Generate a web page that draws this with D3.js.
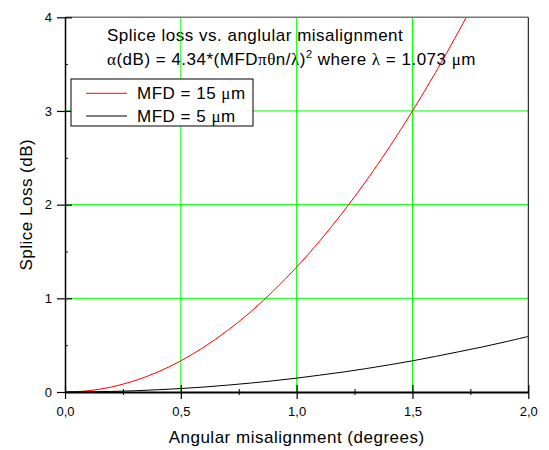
<!DOCTYPE html>
<html><head><meta charset="utf-8">
<script src="https://cdn.jsdelivr.net/npm/d3@7"></script>
<style>body{margin:0;background:#fff;} text{font-family:"Liberation Sans",Arial,sans-serif;fill:#000;}</style>
</head><body>
<svg id="chart" width="549" height="450"></svg>
<script>
// Data
const angles = [0,0.1,0.2,0.3,0.4,0.5,0.6,0.7,0.8,0.9,1.0,1.1,1.2,1.3,1.4,1.5,1.6,1.7,1.8,1.9,2.0];
const mfd15 = [0,0.013,0.053,0.12,0.213,0.333,0.48,0.653,0.853,1.08,1.333,1.613,1.92,2.253,2.613,3.0,3.413,3.853,4.32,4.81,5.33];
const mfd5  = [0,0.0015,0.006,0.013,0.024,0.037,0.053,0.073,0.095,0.12,0.148,0.18,0.213,0.25,0.29,0.333,0.38,0.43,0.48,0.535,0.593];
const xTicks = [0,0.5,1.0,1.5,2.0];
const xTickLabels = ["0,0","0,5","1,0","1,5","2,0"];
const yTicks = [0,1,2,3,4];
const yTickLabels = ["0","1","2","3","4"];
const xGrid = [0.5,1.0,1.5];
const yGrid = [1,2,3];
const seriesNames = ["MFD = 15 ","MFD = 5 "];
const seriesColors = ["#ff0000","#000000"];

const svg = d3.select("#chart");
const L = 65, R = 528.3, T = 17.3, B = 392;
const x = d3.scaleLinear().domain([0,2]).range([L,R]);
const y = d3.scaleLinear().domain([0,4]).range([B,T]);
const BIG = "17px", LS = "0.5px";

// annotation text
svg.append("text").attr("x",107).attr("y",40.7).style("font-size",BIG).style("letter-spacing",LS)
  .text("Splice loss vs. anglular misalignment");
const t2 = svg.append("text").attr("x",107).attr("y",65).style("font-size",BIG).style("letter-spacing",LS);
const greek = s => t2.append("tspan").style("font-family","'Liberation Serif','DejaVu Serif',serif").text(s);
const plain = s => t2.append("tspan").text(s);
greek("α"); plain("(dB) = 4.34*(MFD"); greek("πθ"); plain("n/"); greek("λ"); plain(")");
t2.append("tspan").attr("dy",-7).style("font-size","11px").text("2");
t2.append("tspan").attr("dy",7).text(" where "); greek("λ"); plain(" = 1.073 "); greek("μ"); plain("m");

// gridlines
const grid = svg.append("g").attr("stroke","#00ff00").attr("stroke-width",1);
grid.selectAll(".gx").data(xGrid).join("line")
  .attr("x1",d=>x(d)).attr("x2",d=>x(d)).attr("y1",T).attr("y2",B);
grid.selectAll(".gy").data(yGrid).join("line")
  .attr("x1",L).attr("x2",R).attr("y1",d=>y(d)).attr("y2",d=>y(d));

// clip
svg.append("clipPath").attr("id","clip").append("rect").attr("x",L).attr("y",T).attr("width",R-L).attr("height",B-T);

const line = d3.line().x((d,i)=>x(angles[i])).y(d=>y(d)).curve(d3.curveCatmullRom);
[mfd15, mfd5].forEach((s,i)=>{
  svg.append("path").datum(s).attr("clip-path","url(#clip)").attr("fill","none")
    .attr("stroke",seriesColors[i]).attr("stroke-width",1).attr("d",line);
});

// frame
svg.append("line").attr("x1",L).attr("x2",R).attr("y1",T).attr("y2",T).attr("stroke","#777").attr("stroke-width",1.5);
svg.append("line").attr("x1",R).attr("x2",R).attr("y1",T).attr("y2",B).attr("stroke","#000").attr("stroke-width",1);

// axes
const xAxis = d3.axisBottom(x).tickValues(xTicks).tickFormat((d,i)=>xTickLabels[i]).tickSizeInner(7).tickSizeOuter(0).tickPadding(8);
const gx = svg.append("g").attr("transform",`translate(0,${B})`).call(xAxis);
gx.select(".domain").attr("stroke","#000").attr("stroke-width",2);
gx.selectAll(".tick line").attr("y1",-7).attr("stroke-width",1.2);
gx.selectAll("text").style("font-size","13px").style("font-family","'Liberation Sans',Arial,sans-serif");
const xMinor = d3.axisBottom(x).tickValues([0.25,0.75,1.25,1.75]).tickSize(3).tickFormat("").tickSizeOuter(0);
const gxm = svg.append("g").attr("transform",`translate(0,${B})`).call(xMinor);
gxm.select(".domain").remove();
gxm.selectAll(".tick line").attr("y1",-3);

const yAxis = d3.axisLeft(y).tickValues(yTicks).tickFormat((d,i)=>yTickLabels[i]).tickSizeInner(8).tickSizeOuter(0).tickPadding(5);
const gy = svg.append("g").attr("transform",`translate(${L},0)`).call(yAxis);
gy.select(".domain").attr("stroke","#000").attr("stroke-width",1.5);
gy.selectAll(".tick line").attr("x2",7).attr("x1",-8).attr("stroke-width",1.2);
gy.selectAll("text").style("font-size","13px").style("font-family","'Liberation Sans',Arial,sans-serif");
const yMinor = d3.axisLeft(y).tickValues([0.5,1.5,2.5,3.5]).tickSize(3).tickFormat("").tickSizeOuter(0);
const gym = svg.append("g").attr("transform",`translate(${L},0)`).call(yMinor);
gym.select(".domain").remove();
gym.selectAll(".tick line").attr("x2",3);

// axis titles
svg.append("text").attr("x",(L+R)/2).attr("y",443.3).attr("text-anchor","middle").style("font-size",BIG).style("letter-spacing",LS)
  .text("Angular misalignment (degrees)");
svg.append("text").attr("transform",`translate(31.5,${(T+B)/2}) rotate(-90)`).attr("text-anchor","middle").style("font-size",BIG).style("letter-spacing",LS)
  .text("Splice Loss (dB)");

// legend
const lg = svg.append("g");
lg.append("rect").attr("x",71).attr("y",79).attr("width",182).attr("height",47).attr("fill","#fff").attr("stroke","#000").attr("stroke-width",1);
seriesNames.forEach((n,i)=>{
  const yy = 93.3 + i*22.7;
  lg.append("line").attr("x1",86).attr("x2",127).attr("y1",yy).attr("y2",yy).attr("stroke",seriesColors[i]).attr("stroke-width",1);
  const tt = lg.append("text").attr("x",137).attr("y",yy+5.5).style("font-size",BIG).style("letter-spacing",LS).text(n);
  tt.append("tspan").style("font-family","'Liberation Serif','DejaVu Serif',serif").text("μ");
  tt.append("tspan").text("m");
});
</script>
</body></html>
